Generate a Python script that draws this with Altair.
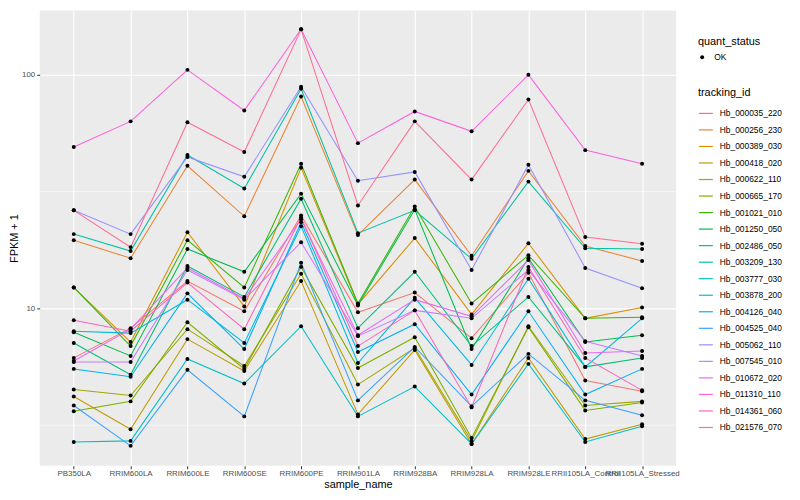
import altair as alt
import pandas as pd

samples = ["PB350LA", "RRIM600LA", "RRIM600LE", "RRIM600SE", "RRIM600PE",
           "RRIM901LA", "RRIM928BA", "RRIM928LA", "RRIM928LE",
           "RRII105LA_Control", "RRII105LA_Stressed"]

tracking_ids = ["Hb_000035_220", "Hb_000256_230", "Hb_000389_030", "Hb_000418_020",
                "Hb_000622_110", "Hb_000665_170", "Hb_001021_010", "Hb_001250_050",
                "Hb_002486_050", "Hb_003209_130", "Hb_003777_030", "Hb_003878_200",
                "Hb_004126_040", "Hb_004525_040", "Hb_005062_110", "Hb_007545_010",
                "Hb_010672_020", "Hb_011310_110", "Hb_014361_060", "Hb_021576_070"]

# FPKM + 1 per sample (same order as samples)
hb_000035_220 = [6.14, 8.23, 13.1, 9.72, 25.0, 9.62, 11.7, 7.46, 14.2, 4.91, 4.42]
hb_000256_230 = [19.6, 16.4, 40.8, 24.8, 80.7, 20.6, 35.6, 16.8, 38.8, 18.5, 15.96]
hb_000389_030 = [12.3, 7.18, 21.2, 10.2, 40.0, 10.4, 20.0, 9.43, 19.0, 9.07, 10.1]
hb_000418_020 = [4.20, 3.04, 7.39, 5.40, 13.1, 3.52, 6.64, 2.63, 6.14, 2.76, 3.19]
hb_000622_110 = [4.50, 4.24, 8.15, 5.67, 14.07, 4.72, 6.77, 2.71, 8.39, 3.84, 4.00]
hb_000665_170 = [3.63, 4.00, 8.72, 5.51, 15.06, 5.56, 7.53, 2.79, 8.31, 3.66, 3.96]
hb_001021_010 = [12.3, 6.90, 19.6, 12.3, 41.6, 10.5, 27.3, 10.5, 16.9, 9.07, 9.16]
hb_001250_050 = [7.91, 6.26, 17.96, 14.35, 31.0, 10.3, 26.5, 6.70, 16.4, 7.18, 7.68]
hb_002486_050 = [7.11, 5.20, 15.2, 11.2, 29.5, 8.23, 14.35, 6.90, 11.2, 5.62, 6.14]
hb_003209_130 = [20.8, 17.6, 45.4, 32.6, 87.2, 21.0, 26.3, 16.3, 34.9, 18.1, 17.96]
hb_003777_030 = [2.68, 2.71, 6.08, 4.77, 8.39, 3.45, 4.63, 2.63, 5.79, 2.68, 3.13]
hb_003878_200 = [7.99, 7.84, 10.9, 7.11, 22.5, 5.84, 11.1, 5.73, 13.4, 5.62, 9.07]
hb_004126_040 = [5.51, 5.10, 11.6, 6.70, 23.4, 6.51, 8.56, 4.28, 9.72, 4.28, 5.51]
hb_004525_040 = [3.84, 2.58, 5.46, 3.45, 15.7, 4.04, 6.84, 3.81, 6.39, 4.04, 3.49]
hb_005062_110 = [26.3, 20.8, 44.5, 36.6, 88.9, 35.2, 38.4, 14.6, 41.2, 14.9, 12.2]
hb_007545_010 = [5.90, 5.90, 14.6, 10.9, 19.2, 7.61, 9.81, 9.07, 14.6, 7.24, 6.26]
hb_010672_020 = [5.96, 8.15, 14.9, 11.0, 24.1, 7.68, 10.9, 9.25, 16.1, 6.45, 6.57]
hb_011310_110 = [49.1, 63.2, 105.0, 70.4, 156.6, 51.0, 69.7, 57.3, 100.0, 47.6, 41.6]
hb_014361_060 = [8.90, 7.99, 12.9, 8.15, 24.5, 6.90, 9.81, 3.77, 15.06, 6.14, 4.46]
hb_021576_070 = [26.3, 18.3, 62.6, 46.7, 156.6, 27.6, 63.2, 35.6, 78.4, 20.2, 18.9]

series = [hb_000035_220, hb_000256_230, hb_000389_030, hb_000418_020, hb_000622_110,
          hb_000665_170, hb_001021_010, hb_001250_050, hb_002486_050, hb_003209_130,
          hb_003777_030, hb_003878_200, hb_004126_040, hb_004525_040, hb_005062_110,
          hb_007545_010, hb_010672_020, hb_011310_110, hb_014361_060, hb_021576_070]

major_breaks = [10, 100]
minor_breaks = [3.1623, 31.623]

palette = ["#F8766D", "#EA8331", "#D89000", "#C09B00", "#A3A500", "#7CAE00", "#39B600",
           "#00BB4E", "#00BF7D", "#00C1A3", "#00BFC4", "#00BAE0", "#00B0F6", "#35A2FF",
           "#9590FF", "#C77CFF", "#E76BF3", "#FA62DB", "#FF62BC", "#FF6C91"]

rows = []
for tid, vals in zip(tracking_ids, series):
    for s, v in zip(samples, vals):
        rows.append({"sample_name": s, "tracking_id": tid, "fpkm": v, "quant_status": "OK"})
df = pd.DataFrame(rows)
grid_df = pd.DataFrame({"fpkm": minor_breaks})

FONT = "Liberation Sans"

yscale = alt.Scale(type="log", domain=[2.12, 188.6], nice=False)
xenc = alt.X("sample_name:N", sort=samples,
             scale=alt.Scale(type="point", padding=0.6),
             axis=alt.Axis(title="sample_name", labelAngle=0, labelOverlap=False,
                           labelPadding=1, titlePadding=1))
yenc = alt.Y("fpkm:Q", scale=yscale,
             axis=alt.Axis(title="FPKM + 1", values=major_breaks, format="d",
                           labelPadding=2, titlePadding=2))

minor = alt.Chart(grid_df).mark_rule(color="white", strokeWidth=0.55).encode(y=yenc)

lines = alt.Chart(df).mark_line(strokeWidth=1.05).encode(
    x=xenc, y=yenc,
    color=alt.Color("tracking_id:N",
                    scale=alt.Scale(domain=tracking_ids, range=palette),
                    legend=alt.Legend(title="tracking_id", orient="none",
                                      legendX=665, legendY=77,
                                      symbolType="stroke", symbolSize=200,
                                      symbolStrokeWidth=1.2, rowPadding=3.7,
                                      labelOffset=6,
                                      labelFontSize=8.5, titleFontSize=11,
                                      titleFontWeight="normal", titlePadding=8,
                                      labelColor="black", titleColor="black",
                                      labelFont=FONT, titleFont=FONT)),
)

points = alt.Chart(df).mark_point(filled=True, size=16, color="black", opacity=1).encode(
    x=xenc, y=yenc,
    shape=alt.Shape("quant_status:N", scale=alt.Scale(range=["circle"]),
                    legend=alt.Legend(title="quant_status", orient="none",
                                      legendX=665, legendY=26,
                                      symbolSize=16, symbolFillColor="black",
                                      symbolStrokeColor="black", labelOffset=8,
                                      labelFontSize=8.5, titleFontSize=11,
                                      titleFontWeight="normal", titlePadding=6,
                                      labelColor="black", titleColor="black",
                                      labelFont=FONT, titleFont=FONT)),
)

chart = alt.layer(minor, lines, points).properties(
    width=643, height=460,
    background="white",
    padding={"left": 32, "top": 0, "right": 117, "bottom": 24},
    autosize=alt.AutoSizeParams(type="none"),
).configure_view(
    fill="#EBEBEB", stroke=None
).configure_axis(
    grid=True, gridColor="white", gridWidth=1.1, domain=False,
    tickColor="#333333", tickSize=3, tickWidth=1,
    labelColor="#4D4D4D", labelFontSize=8, labelFont=FONT,
    titleColor="black", titleFontSize=11, titleFontWeight="normal", titleFont=FONT,
)

chart.save("out.html", embed_options={"renderer": "svg", "actions": False})
